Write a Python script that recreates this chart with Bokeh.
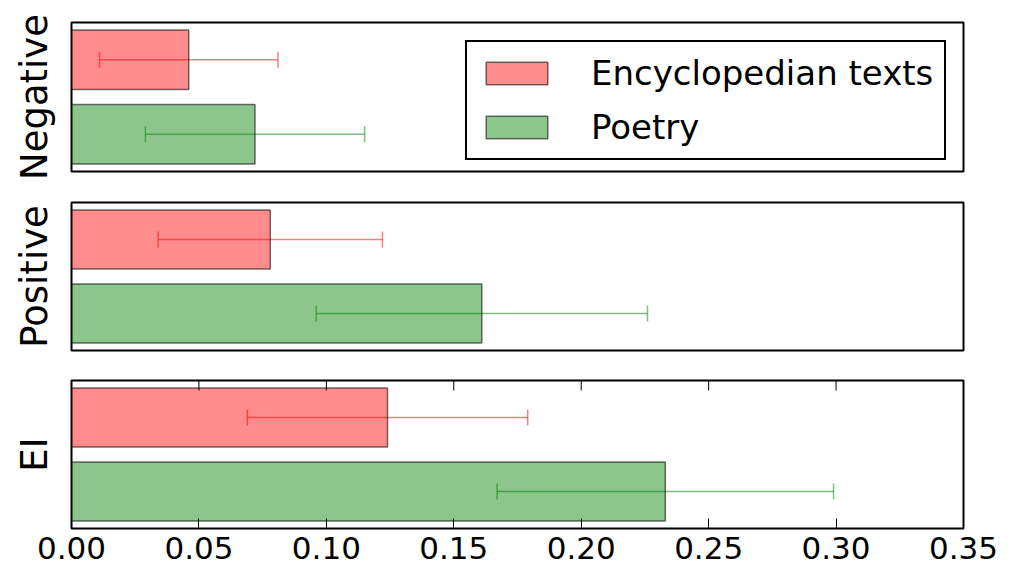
from bokeh.plotting import figure
from bokeh.layouts import column
from bokeh.models import (Range1d, LinearAxis, FixedTicker, Whisker, TeeHead,
                          ColumnDataSource, Legend, LegendItem)
from bokeh.embed import file_html
from bokeh.resources import INLINE

# ---- data ----
categories = ["Negative", "Positive", "EI"]
series_names = ["Encyclopedian texts", "Poetry"]
ency_vals = [0.046, 0.078, 0.124]
ency_err = [0.035, 0.044, 0.055]
poetry_vals = [0.072, 0.161, 0.233]
poetry_err = [0.043, 0.065, 0.066]
x_ticks = [0.0, 0.05, 0.10, 0.15, 0.20, 0.25, 0.30, 0.35]
x_tick_labels = ["0.00", "0.05", "0.10", "0.15", "0.20", "0.25", "0.30", "0.35"]
x_max = 0.35

FONT = "DejaVu Sans"
x_range = Range1d(0, x_max)

panel_borders = [(22, 15), (16, 15), (15, 41)]
frame_heights = [149, 148, 148]
TICK_PX = 10


def make_panel(i):
    top, bottom = panel_borders[i]
    fh = frame_heights[i]
    y_range = Range1d(1.5, -0.5)
    p = figure(width=1013, height=top + fh + bottom, x_range=x_range,
               y_range=y_range, output_backend="svg",
               toolbar_location=None, x_axis_type=None, y_axis_type=None,
               min_border_left=71, min_border_right=50,
               min_border_top=top, min_border_bottom=bottom)
    p.outline_line_color = "black"
    p.outline_line_width = 2
    p.outline_line_alpha = 1
    p.xgrid.visible = False
    p.ygrid.visible = False
    p.background_fill_color = "white"
    p.border_fill_color = "white"

    # y axis label only
    ya = LinearAxis(ticker=FixedTicker(ticks=[]), axis_label=categories[i],
                    axis_line_color=None, major_tick_line_color=None,
                    minor_tick_line_color=None,
                    axis_label_text_font=FONT,
                    axis_label_text_font_size="37px",
                    axis_label_text_font_style="normal",
                    axis_label_text_color="black",
                    axis_label_standoff=16)
    p.add_layout(ya, "left")

    series_vals = [ency_vals[i], poetry_vals[i]]
    series_errs = [ency_err[i], poetry_err[i]]
    colors = ["red", "green"]
    renderers = []
    for k in range(2):
        src = ColumnDataSource(dict(y=[k], right=[series_vals[k]],
                                    lower=[series_vals[k] - series_errs[k]],
                                    upper=[series_vals[k] + series_errs[k]]))
        r = p.hbar(y="y", right="right", left=0, height=0.8, source=src,
                   fill_color=colors[k], fill_alpha=0.45,
                   line_color="black", line_alpha=0.55, line_width=1.5)
        renderers.append(r)
        w = Whisker(base="y", lower="lower", upper="upper", dimension="width",
                    source=src, line_color=colors[k], line_alpha=0.5,
                    line_width=1.5,
                    upper_head=TeeHead(size=16, line_color=colors[k],
                                       line_alpha=0.5, line_width=1.5),
                    lower_head=TeeHead(size=16, line_color=colors[k],
                                       line_alpha=0.5, line_width=1.5))
        p.add_layout(w)

    if i == 0:
        legend = Legend(items=[LegendItem(label=series_names[k],
                                          renderers=[renderers[k]])
                               for k in range(2)],
                        location=(394, 11), orientation="vertical",
                        border_line_color="black", border_line_width=2,
                        border_line_alpha=1,
                        background_fill_color="white", background_fill_alpha=1,
                        glyph_width=77, glyph_height=28, label_height=34,
                        label_standoff=36, spacing=14, padding=11, margin=0,
                        label_text_font=FONT, label_text_font_size="34px",
                        label_text_color="black")
        p.add_layout(legend)

    if i == 2:
        xa = LinearAxis(ticker=FixedTicker(ticks=x_ticks),
                        major_label_overrides={t: l for t, l in zip(x_ticks, x_tick_labels)},
                        axis_line_color=None,
                        major_tick_in=TICK_PX, major_tick_out=0,
                        major_tick_line_color="black", major_tick_line_width=1,
                        minor_tick_line_color=None,
                        major_label_standoff=8,
                        major_label_text_font=FONT,
                        major_label_text_font_size="31px",
                        major_label_text_color="black")
        p.add_layout(xa, "below")
        # inward tick marks along the top edge of the bottom panel
        y_top = y_range.end
        tick_len = (y_range.start - y_range.end) * TICK_PX / fh
        p.segment(x0=x_ticks, x1=x_ticks, y0=[y_top] * len(x_ticks),
                  y1=[y_top + tick_len] * len(x_ticks),
                  line_color="black", line_width=1)
    return p


panels = [make_panel(i) for i in range(3)]
layout = column(*panels, spacing=0)
open("out.html", "w").write(file_html(layout, INLINE))
